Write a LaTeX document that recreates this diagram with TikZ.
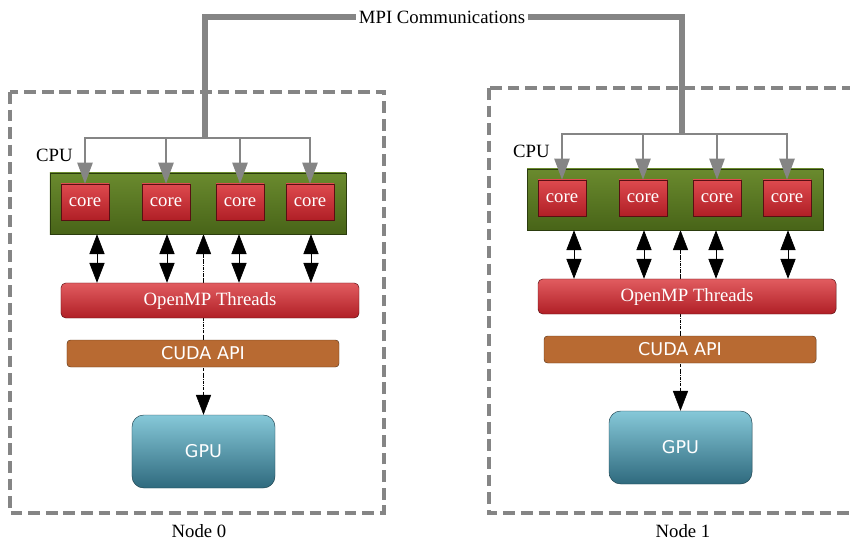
\documentclass[tikz,border=0pt]{standalone}
\usepackage{fontspec}
\setmainfont{Liberation Serif}
\newfontfamily\apifont{DejaVu Sans}
\usetikzlibrary{arrows.meta,backgrounds}
\definecolor{boxgray}{HTML}{858585}
\definecolor{cputop}{HTML}{6A8A2E}
\definecolor{cpubot}{HTML}{486418}
\definecolor{redtop}{HTML}{DE4A4E}
\definecolor{redbot}{HTML}{B01F26}
\definecolor{cudafill}{HTML}{B86A32}
\definecolor{gputop}{HTML}{86C8D8}
\definecolor{gpubot}{HTML}{2F6A7E}
\tikzset{
  txt/.style={font=\fontsize{16}{18}\selectfont},
  nodebox/.style={draw=boxgray, line width=3pt, dash pattern=on 10pt off 5pt},
  cpubox/.style={draw=cpubot!60!black, top color=cputop, bottom color=cpubot,
    minimum width=8.88cm, minimum height=1.83cm, inner sep=0pt},
  corebox/.style={draw=redbot!50!black, top color=redtop, bottom color=redbot,
    minimum width=1.44cm, minimum height=1.08cm, inner sep=0pt, text=white, txt},
  ompbox/.style={draw=redbot!50!black, top color=redtop!90!white, bottom color=redbot,
    rounded corners=4pt, minimum width=8.94cm, minimum height=1.05cm, inner sep=0pt,
    text=white, txt},
  cudabox/.style={draw=cudafill!50!black, fill=cudafill, rounded corners=3pt,
    minimum width=8.16cm, minimum height=0.81cm, inner sep=0pt, text=white,
    font=\apifont\fontsize{15}{17}\selectfont},
  gpubox/.style={draw=gpubot!60!black, top color=gputop, bottom color=gpubot,
    rounded corners=10pt, minimum width=4.29cm, minimum height=2.19cm, inner sep=0pt,
    text=white, font=\apifont\fontsize{15}{17}\selectfont},
  feed/.style={draw=boxgray, line width=1.5pt, -{Triangle[width=13pt,length=18pt]}},
  mpi/.style={draw=boxgray, line width=4.5pt},
  link/.style={semithick, {Triangle[width=13pt,length=17pt]}-{Triangle[width=13pt,length=17pt]}},
  ctrl/.style={thin, densely dashdotted, {Triangle[width=13pt,length=17pt]}-{Triangle[width=13pt,length=17pt]}},
}
\begin{document}
\begin{tikzpicture}[x=0.03cm, y=-0.03cm]
  \useasboundingbox (0,0) rectangle (850,543);
  % node frames
  \draw[nodebox] (10,92) rectangle (384,513);
  \draw[nodebox] (489,88) rectangle (870,513);
  % one compute node per pass
  \foreach \n/\dx/\dy/\lx/\ly in {0/0/0/199/531, 1/477/-4/206/535} {
    \begin{scope}[shift={(\dx,\dy)}]
      \node[txt, anchor=west] (cpulabel\n) at (32,155) {CPU};
      \node[cpubox] (cpu\n) at (198,203.5) {};
      \foreach \i/\x in {1/85, 2/166, 3/240, 4/310}
        \node[corebox] (core\n-\i) at (\x,202) {core};
      \coordinate (bus\n) at (205,138);
      \foreach \i in {1,...,4}
        \draw[feed] (bus\n) -| (core\n-\i.north);
      \node[ompbox] (omp\n) at (210,300.5) {OpenMP Threads};
      \node[cudabox] (cuda\n) at (203,353.5) {CUDA API};
      \node[gpubox] (gpu\n) at (203.5,451.5) {GPU};
      \foreach \x in {97,167,239,311}
        \draw[link] (cpu\n.south -| \x,0) -- (omp\n.north -| \x,0);
      \begin{scope}[on background layer]
        \draw[ctrl] (cpu\n.south -| gpu\n.north) -- (gpu\n.north);
      \end{scope}
      \node[txt, inner sep=1pt] (label\n) at (\lx,\ly) {Node \n};
    \end{scope}
  }
  \node[txt, inner sep=2pt] (mpi) at (442,17) {MPI Communications};
  \draw[mpi] (bus0) |- (mpi.west);
  \draw[mpi] (mpi.east) -| (bus1);
\end{tikzpicture}
\end{document}
